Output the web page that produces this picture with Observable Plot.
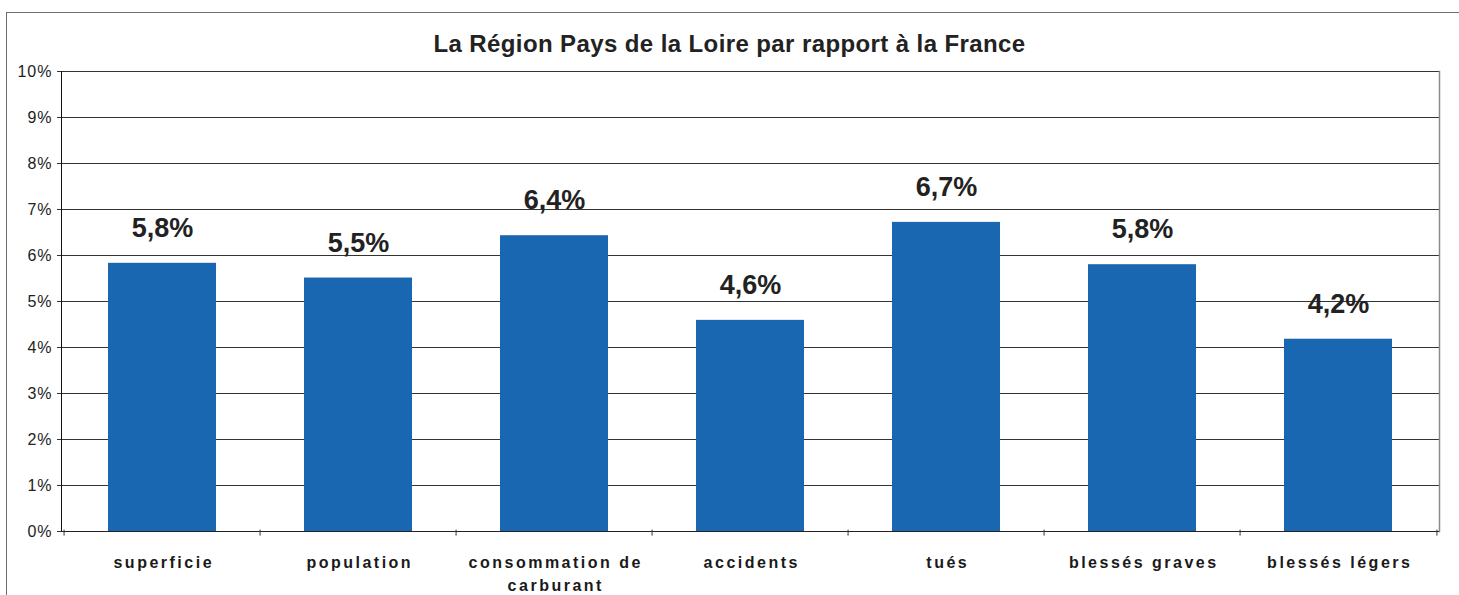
<!DOCTYPE html>
<html><head><meta charset="utf-8">
<script src="https://cdn.jsdelivr.net/npm/d3@7"></script>
<script src="https://cdn.jsdelivr.net/npm/@observablehq/plot@0.6"></script>
<style>
html,body{margin:0;padding:0;background:#fff;overflow:hidden;}
#wrap{position:relative;width:1459px;height:595px;font-family:"Liberation Sans",Arial,sans-serif;}
#border{position:absolute;left:6px;top:12px;width:1600px;height:800px;border:1.5px solid #6e6e6e;box-sizing:border-box;pointer-events:none;}
#title{position:absolute;left:0;top:32px;width:1459px;text-align:center;font-weight:bold;font-size:24px;line-height:24px;letter-spacing:0.4px;color:#222;}
#chart{position:absolute;left:0;top:60px;}
#chart svg{background:transparent;}
.xlab{letter-spacing:2.5px;}
.ylab{letter-spacing:1px;}
</style></head>
<body><div id="wrap"><div id="chart"></div><div id="title">La Région Pays de la Loire par rapport à la France</div><div id="border"></div></div>
<script>
const categories = ["superficie", "population", "consommation de\ncarburant", "accidents", "tués", "blessés graves", "blessés légers"];
const values = [5.83, 5.51, 6.43, 4.59, 6.72, 5.80, 4.18];
const yTicks = [0, 1, 2, 3, 4, 5, 6, 7, 8, 9, 10];

const data = categories.map((c, i) => ({cat: c, value: values[i]}));
const W = 1459, H = 535, mL = 61, mR = 20, mT = 11, mB = 64;
const step = (W - mL - mR) / categories.length;
const fmt = d => d3.format(".1f")(d).replace(".", ",") + "%";

const chart = Plot.plot({
  width: W, height: H,
  marginLeft: mL, marginRight: mR, marginTop: mT, marginBottom: mB,
  style: {background: "transparent", fontFamily: "Liberation Sans, Arial, sans-serif", color: "#222"},
  x: {domain: categories, paddingInner: 0.45, paddingOuter: 0.225, axis: null},
  y: {domain: [0, 10], axis: null},
  marks: [
    Plot.ruleY(yTicks, {stroke: "#333", strokeWidth: 1}),
    Plot.barY(data, {x: "cat", y: "value", fill: "#1967b1"}),
    Plot.frame({anchor: "left", stroke: "#111"}),
    Plot.frame({anchor: "right", stroke: "#8a8a8a", strokeWidth: 1.5}),
    Plot.ruleY([0], {stroke: "#222"}),
    Plot.axisY({ticks: yTicks, tickSize: 4, tickPadding: 5, fontSize: 16, tickFormat: d => d + "%", label: null, className: "ylab", stroke: "#333"}),
    Plot.ruleX(categories, {x: d => d, dx: -step / 2, y1: 0.03, y2: -0.1, stroke: "#333"}),
    Plot.ruleX([categories[categories.length - 1]], {x: d => d, dx: step / 2, y1: 0.03, y2: -0.1, stroke: "#333"}),
    Plot.text(data, {x: "cat", y: "value", text: d => fmt(d.value), dy: -35, fontSize: 27, fontWeight: "bold", fill: "#222", lineAnchor: "middle"}),
    Plot.text(categories, {x: d => d, text: d => d, frameAnchor: "bottom", lineAnchor: "top", dy: 20, dx: 1.25, fontSize: 16, fontWeight: "bold", lineHeight: 1.45, fill: "#1a1a1a", className: "xlab"})
  ]
});
document.getElementById("chart").appendChild(chart);
</script>
</body></html>
